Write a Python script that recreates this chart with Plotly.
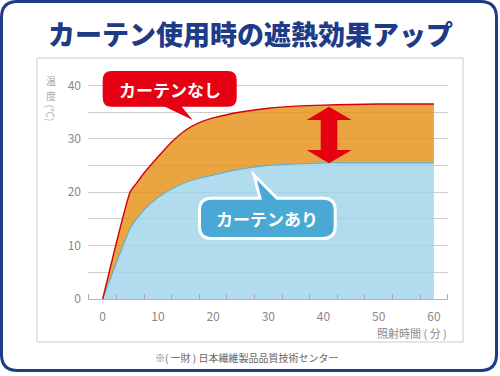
import plotly.graph_objects as go

# ---- data ----
minutes = [0, 5, 6, 7.5, 10, 12.5, 15, 17.5, 20, 22.5, 25, 30, 35, 40, 45, 50, 55, 60]
no_curtain = [0, 20.1, 21.5, 23.6, 26.6, 29.4, 31.6, 33.0, 33.9, 34.5, 35.0, 35.7, 36.1, 36.3, 36.4, 36.5, 36.5, 36.5]
with_curtain = [0, 13.3, 14.8, 16.7, 19.0, 20.6, 21.8, 22.6, 23.2, 23.8, 24.3, 25.0, 25.3, 25.5, 25.5, 25.5, 25.5, 25.5]
x_ticks = [0, 10, 20, 30, 40, 50, 60]
y_ticks = [0, 10, 20, 30, 40]

title = "カーテン使用時の遮熱効果アップ"
label_no = "カーテンなし"
label_with = "カーテンあり"
y_title_chars = ["温", "度"]
y_title_unit = "(℃)"
x_title = "照射時間 ( 分 )"
source = "※( 一財 ) 日本繊維製品品質技術センター"

W, H = 500, 376
ML, MR, MT, MB = 88, 52, 80, 77
PW, PH = W - ML - MR, H - MT - MB

def px(x):
    return (x - ML) / PW

def py(y):
    return (H - MB - y) / PH

def P(x, y):
    return f"{px(x):.5f},{py(y):.5f}"

def rounded_path(x0, y0, x1, y1, r, top_tail=None, bottom_tail=None):
    s = f"M{P(x0 + r, y0)}"
    if top_tail:
        for (a, b) in top_tail:
            s += f" L{P(a, b)}"
    s += f" L{P(x1 - r, y0)} Q{P(x1, y0)} {P(x1, y0 + r)}"
    s += f" L{P(x1, y1 - r)} Q{P(x1, y1)} {P(x1 - r, y1)}"
    if bottom_tail:
        for (a, b) in bottom_tail:
            s += f" L{P(a, b)}"
    s += f" L{P(x0 + r, y1)} Q{P(x0, y1)} {P(x0, y1 - r)}"
    s += f" L{P(x0, y0 + r)} Q{P(x0, y0)} {P(x0 + r, y0)} Z"
    return s

NAVY = "#1d3b87"
RED = "#e50012"
ORANGE_FILL = "rgba(229,141,16,0.8)"
BLUE_FILL = "rgba(156,211,234,0.8)"
BUBBLE_BLUE = "#4aa9d4"
FONT = "Noto Sans CJK JP"

fig = go.Figure()
fig.add_trace(go.Scatter(
    x=minutes, y=with_curtain, mode="lines", fill="tozeroy",
    fillcolor=BLUE_FILL, line=dict(color="#5fb2d2", width=1.2, shape="spline", smoothing=0.5),
    showlegend=False, hoverinfo="skip"))
fig.add_trace(go.Scatter(
    x=minutes, y=no_curtain, mode="lines", fill="tonexty",
    fillcolor=ORANGE_FILL, line=dict(color="#d2000f", width=1.4, shape="spline", smoothing=0.5),
    showlegend=False, hoverinfo="skip"))

shapes = []
# outer rounded frame
shapes.append(dict(type="path", xref="paper", yref="paper", layer="above",
                   path=rounded_path(1.5, 1.5, 496.5, 370.5, 16),
                   line=dict(color=NAVY, width=3), fillcolor="rgba(0,0,0,0)"))
# inner gray box
shapes.append(dict(type="path", xref="paper", yref="paper", layer="below",
                   path=f"M{P(37, 58)} L{P(463, 58)} L{P(463, 342)} L{P(37, 342)} Z",
                   line=dict(color="#cccccc", width=1), fillcolor="rgba(0,0,0,0)"))
# red speech bubble
shapes.append(dict(type="path", xref="paper", yref="paper", layer="above",
                   path=rounded_path(102.7, 71, 236.7, 106.7, 9,
                                     bottom_tail=[(181.7, 106.7), (192.7, 120), (165, 106.7)]),
                   line=dict(width=0), fillcolor=RED))
# blue speech bubble
shapes.append(dict(type="path", xref="paper", yref="paper", layer="above",
                   path=rounded_path(199.5, 198.2, 335.2, 238.5, 12,
                                     top_tail=[(260, 198.2), (254, 175), (277, 198.2)]),
                   line=dict(color="white", width=3), fillcolor=BUBBLE_BLUE))
# double arrow
arrow = [(329, 106.7), (351.7, 120), (337.3, 120), (337.3, 150), (351.7, 150), (329, 163.3),
         (306.7, 150), (320.7, 150), (320.7, 120), (306.7, 120)]
shapes.append(dict(type="path", xref="paper", yref="paper", layer="above",
                   path="M" + " L".join(P(a, b) for a, b in arrow) + " Z",
                   line=dict(width=0), fillcolor=RED))

ann = []
def A(text, x, y, size, color, weight="normal", xanchor="center", angle=0):
    ann.append(dict(text=text, x=px(x), y=py(y), xref="paper", yref="paper",
                    xanchor=xanchor, yanchor="middle", showarrow=False, textangle=angle,
                    font=dict(family=FONT, size=size, color=color, weight=weight)))

A(title, 250, 34, 27, NAVY, weight=900)
A(label_no, 169.7, 89, 17, "white", weight="bold")
A(label_with, 267.3, 218.5, 17, "white", weight="bold")
A(y_title_chars[0], 50.5, 80, 10, "#aaaaaa")
A(y_title_chars[1], 50.5, 95, 10, "#aaaaaa")
A(y_title_unit, 50.5, 113, 10, "#aaaaaa", angle=90)
A(x_title, 449, 333, 11, "#888888", xanchor="right")
A(source, 246, 357, 10, "#666666")

fig.update_layout(
    width=W, height=H,
    margin=dict(l=ML, r=MR, t=MT, b=MB, pad=0),
    paper_bgcolor="white", plot_bgcolor="white",
    font=dict(family=FONT, color="#888888"),
    shapes=shapes, annotations=ann, showlegend=False,
    xaxis=dict(range=[-2.66, 62.55], tickvals=x_ticks, ticks="", showgrid=False,
               zeroline=False, showline=False, ticklabelstandoff=9,
               tickfont=dict(size=12, color="#888888", family=FONT),
               minor=dict(tick0=2.5, dtick=5, ticks="inside", ticklen=5,
                          tickcolor="#aaaaaa", tickwidth=1, showgrid=False),
               fixedrange=True),
    yaxis=dict(range=[0, 41], tickvals=y_ticks, ticks="", showgrid=True,
               gridcolor="#cccccc", gridwidth=1, zeroline=True, zerolinecolor="#b5b5b5",
               zerolinewidth=1, showline=False, ticklabelstandoff=6,
               tickfont=dict(size=12, color="#888888", family=FONT),
               minor=dict(dtick=5, tick0=0, showgrid=True, gridcolor="#cccccc", gridwidth=1),
               fixedrange=True),
)

fig.write_html("out.html", config={"displayModeBar": False},
               post_script="document.body.style.margin='0';")
